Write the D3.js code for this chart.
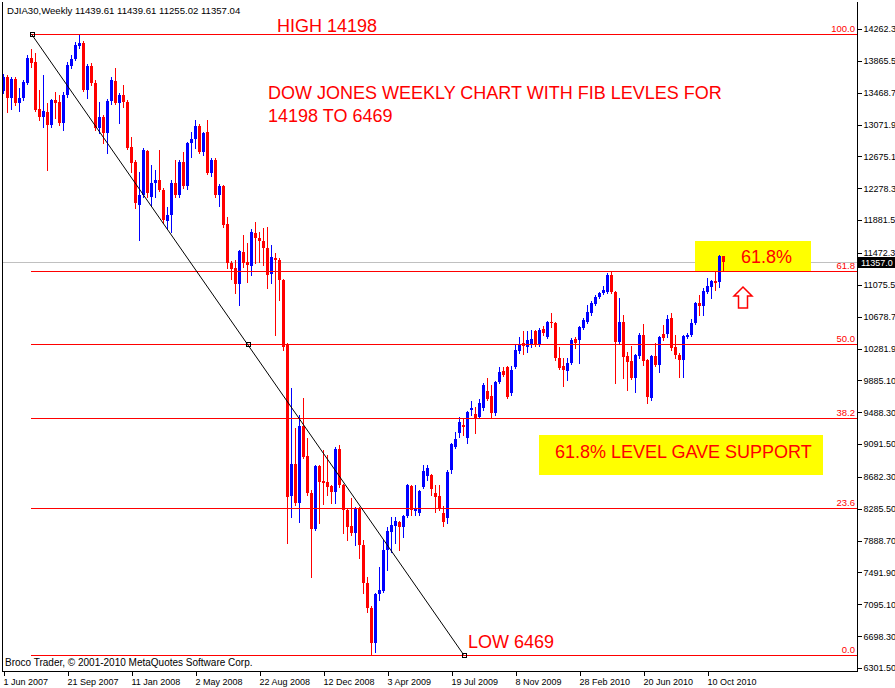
<!DOCTYPE html>
<html><head><meta charset="utf-8">
<script src="https://cdn.jsdelivr.net/npm/d3@7"></script>
<style>html,body{margin:0;padding:0;background:#fff;}svg{display:block;}</style>
</head><body>
<svg id="chart" width="895" height="688"></svg>
<script>
// ---------------- data ----------------
const symbolTitle = "DJIA30,Weekly  11439.61 11439.61 11255.02 11357.04";
const copyrightText = "Broco Trader, \u00a9 2001-2010 MetaQuotes Software Corp.";

const openP = [
13490,13664,13403,13639,13340,13403,13590,13901,13851,13266,
13166,13228,13066,13378,13353,13091,13440,13801,13889,14051,
14088,13502,13801,13590,13029,13166,12967,13365,13614,13340,
13440,13353,12792,12605,12070,12194,12742,12169,12344,12381,
12257,11870,11945,12344,12194,12605,12306,12842,12892,13054,
12730,12979,12468,12630,12194,12306,11833,11347,11285,11085,
11484,11360,11310,11721,11658,11621,11534,11210,11409,11385,
11135,10326,8444,8843,8357,9317,8943,8482,8033,8818,
8631,8619,8569,8494,9030,8582,8270,8071,7984,8282,
7834,7361,7049,6613,7224,7261,7772,7996,8071,8120,
8058,8195,8569,8258,8233,8557,8693,8706,8482,8444,
8233,8170,8768,9055,9229,9329,9167,9516,9466,9429,
9541,9753,9690,9478,9865,10002,10052,9728,10052,10251,
10350,10301,10338,10500,10326,10525,10425,10612,10600,10164,
10064,10002,10101,10400,10388,10537,10612,10724,10836,10924,
10973,10986,11198,10986,10363,10612,10189,10126,9915,10189,
10450,10139,9665,10189,10076,10463,10463,10662,10301,10201,
10139,10425,10450,10600,10849,10811,10986,11048,11123,11110,
11439.61];
const highP = [
13702,13689,13664,13664,13527,13627,13938,14013,13963,13502,
13689,13340,13390,13478,13440,13478,13851,13938,14100,14198,
14113,13826,13839,13627,13353,13191,13390,13664,13776,13465,
13565,13378,12917,12630,12481,12780,12755,12568,12506,12755,
12281,12045,12381,12630,12630,12730,12855,12979,13129,13079,
12979,13129,12655,12655,12331,12319,11920,11372,11385,11509,
11696,11596,11771,11858,11733,11783,11796,11571,11472,11409,
11148,10350,9790,9292,9454,9665,9167,8519,8831,8831,
9018,8955,8582,9055,9080,8594,8295,8420,8307,8307,
7896,7435,7074,7236,7560,7896,8058,8183,8183,8133,
8208,8594,8582,8582,8519,8831,8831,8718,8582,8582,
8320,8768,9105,9242,9429,9416,9503,9628,9553,9653,
9852,9915,9827,9877,10052,10052,10064,10064,10338,10425,
10500,10500,10512,10512,10537,10562,10625,10724,10612,10301,
10164,10164,10413,10425,10562,10662,10824,10874,10948,10986,
11060,11223,11248,10998,10911,10699,10238,10313,10213,10475,
10587,10151,10201,10350,10438,10575,10699,10724,10450,10226,
10450,10475,10649,10861,10948,11036,11160,11135,11235,11447,
11439.61];
const lowP = [
13465,13228,13266,13315,13241,13378,13577,13789,13241,13129,
13041,12506,13041,13154,13066,13004,13415,13776,13876,14026,
13490,13403,13565,13004,12967,12842,12718,13328,13328,13091,
13290,12767,12481,12032,11634,12169,12169,12057,12169,12244,
11845,11770,11733,12169,12169,12281,12269,12667,12780,12718,
12693,12456,12431,12169,12057,11796,11285,11148,10973,10824,
11297,11110,11198,11347,11360,11322,11036,11098,10450,10886,
10263,7859,8183,8332,8120,8918,8457,7435,8021,8108,
8345,8457,8357,8357,8557,7984,7896,7959,7834,7672,
7236,6999,6469,6501,7149,7249,7523,7747,7859,7772,
7934,8183,8208,8208,8208,8544,8644,8457,8245,8270,
8071,8108,8731,9043,9180,9204,9105,9454,9229,9416,
9516,9640,9416,9454,9852,9939,9665,9703,10039,10226,
10213,10238,10301,10313,10313,10450,10413,10550,10139,10027,
9815,9890,10089,10288,10101,10525,10600,10699,10824,10911,
10961,10973,10973,9852,10350,9915,9765,9902,9740,10164,
10076,9603,9640,10064,9989,10388,10425,10263,10164,9927,
9927,10413,10438,10587,10699,10699,10973,10911,11011,11048,
11255.02];
const closeP = [
13664,13403,13639,13340,13403,13602,13901,13839,13253,13166,
13241,13066,13378,13340,13091,13440,13814,13889,14063,14088,
13502,13801,13590,13029,13166,12967,13365,13627,13340,13440,
13353,12780,12593,12095,12194,12755,12219,12344,12381,12257,
11883,11945,12344,12194,12605,12306,12842,12892,13054,12730,
12967,12468,12630,12194,12306,11821,11347,11272,11085,11497,
11347,11322,11733,11658,11621,11534,11198,11422,11385,11135,
10301,8432,8843,8357,9317,8930,8482,8033,8818,8619,
8606,8557,8494,9030,8582,8270,8058,7984,8282,7834,
7361,7049,6613,7224,7273,7772,8008,8083,8133,8058,
8195,8582,8270,8282,8507,8756,8793,8532,8432,8282,
8120,8743,9092,9155,9366,9304,9491,9541,9416,9603,
9827,9653,9478,9865,9989,9952,9678,10014,10263,10326,
10313,10388,10400,10326,10512,10475,10612,10600,10164,10039,
10014,10101,10388,10350,10550,10637,10737,10849,10924,10973,
11011,11198,10986,10363,10612,10176,10114,9915,10201,10450,
10126,9678,10189,10076,10425,10413,10649,10288,10201,10139,
10438,10450,10600,10849,10811,10998,11060,11123,11098,11434,
11357.04];

const dateTickBars = [0,16,32,48,64,80,96,112,128,144,160,176];
const dateTickLabels = ["1 Jun 2007","21 Sep 2007","11 Jan 2008","2 May 2008","22 Aug 2008","12 Dec 2008","3 Apr 2009","19 Jul 2009","8 Nov 2009","28 Feb 2010","20 Jun 2010","10 Oct 2010"];
const priceTickLabels = ["14262.3","13865.5","13468.7","13071.9","12675.1","12278.3","11881.5","11472.3","11075.5","10678.7","10281.9","9885.10","9488.30","9091.50","8682.30","8285.50","7888.70","7491.90","7095.10","6698.30","6301.50"];

const fibHigh = 14198, fibLow = 6469;
const fibAnchorBars = [7, 115];
const fibLevels = [0, 23.6, 38.2, 50, 61.8, 100];
const fibLevelLabels = ["0.0","23.6","38.2","50.0","61.8","100.0"];
const lastPrice = 11357.04;

// ---------------- layout ----------------
const W = 895, H = 688;
const frame = {left: 2, right: 857, top: 2, bottom: 671};
const x = d3.scaleLinear().domain([0, 180]).range([3.5, 723.5]);
const priceTicks = priceTickLabels.map(Number);
const y = d3.scaleLinear().domain([6301.5, 14262.3]).range([668, 29]);
const BULL = "#0000ff", BEAR = "#ff0000", RED = "#ff0000";
const smallFont = "'Liberation Sans', Arial, sans-serif";
const svg = d3.select("#chart");

svg.append("defs").append("clipPath").attr("id", "clip")
  .append("rect").attr("x", frame.left + 1).attr("y", frame.top)
  .attr("width", frame.right - frame.left - 1).attr("height", frame.bottom - frame.top);

const plot = svg.append("g").attr("clip-path", "url(#clip)");

// last price grey line
const lpY = Math.round(y(lastPrice)) + 0.5;
plot.append("line").attr("x1", frame.left).attr("x2", frame.right)
  .attr("y1", lpY).attr("y2", lpY).attr("stroke", "#c0c0c0").attr("shape-rendering", "crispEdges");

// yellow annotation boxes (behind candles)
plot.append("rect").attr("x", 695).attr("y", 241).attr("width", 116).attr("height", 30).attr("fill", "#ffff00");
plot.append("rect").attr("x", 539).attr("y", 435).attr("width", 284).attr("height", 40).attr("fill", "#ffff00");

// candles
const bars = openP.map((o, i) => ({i, o, h: highP[i], l: lowP[i], c: closeP[i]}));
const cg = plot.append("g").attr("shape-rendering", "crispEdges");
cg.selectAll("line.wick").data(bars).join("line").attr("class", "wick")
  .attr("x1", d => x(d.i)).attr("x2", d => x(d.i))
  .attr("y1", d => Math.round(y(d.h))).attr("y2", d => Math.round(y(d.l)) + 1)
  .attr("stroke", d => d.c >= d.o ? BULL : BEAR).attr("stroke-width", 1);
cg.selectAll("rect.body").data(bars).join("rect").attr("class", "body")
  .attr("x", d => x(d.i) - 1.5).attr("width", 3)
  .attr("y", d => Math.round(y(Math.max(d.o, d.c))))
  .attr("height", d => Math.max(1, Math.round(y(Math.min(d.o, d.c))) - Math.round(y(Math.max(d.o, d.c)))))
  .attr("fill", d => d.c >= d.o ? BULL : BEAR);

// fibonacci levels
const fibG = plot.append("g");
const fibData = fibLevels.map((lv, k) => ({lv, label: fibLevelLabels[k], v: fibLow + lv / 100 * (fibHigh - fibLow)}));
fibG.selectAll("line").data(fibData).join("line")
  .attr("x1", x(fibAnchorBars[0]) - 0.5).attr("x2", frame.right)
  .attr("y1", d => Math.round(y(d.v)) + 0.5).attr("y2", d => Math.round(y(d.v)) + 0.5)
  .attr("stroke", RED).attr("shape-rendering", "crispEdges");
fibG.selectAll("text").data(fibData).join("text")
  .attr("x", frame.right - 2).attr("y", d => Math.round(y(d.v)) - 2)
  .attr("text-anchor", "end").attr("fill", RED)
  .attr("font-family", smallFont).attr("font-size", 9.5).text(d => d.label);

// fib trend line with anchor squares
const p1 = [x(fibAnchorBars[0]), y(fibHigh)], p2 = [x(fibAnchorBars[1]), y(fibLow)];
const pm = [x((fibAnchorBars[0] + fibAnchorBars[1]) / 2), y((fibHigh + fibLow) / 2)];
plot.append("line").attr("x1", p1[0]).attr("y1", p1[1]).attr("x2", p2[0]).attr("y2", p2[1])
  .attr("stroke", "#000").attr("stroke-width", 1);
plot.selectAll("rect.anchor").data([p1, pm, p2]).join("rect").attr("class", "anchor")
  .attr("x", d => Math.round(d[0]) - 2 + 0.5).attr("y", d => Math.round(d[1]) - 2 + 0.5)
  .attr("width", 4).attr("height", 4).attr("fill", "none").attr("stroke", "#000")
  .attr("shape-rendering", "crispEdges");

// annotation texts
const bigFont = "'Liberation Sans', Arial, sans-serif";
function big(t, px, py) {
  plot.append("text").attr("x", px).attr("y", py).attr("fill", RED)
    .attr("font-family", bigFont).attr("font-size", 18).text(t);
}
big("HIGH 14198", 277, Math.round(y(fibHigh)) - 2);
big("DOW JONES WEEKLY CHART WITH FIB LEVLES FOR", 268, 99);
big("14198 TO 6469", 268, 122);
big("61.8%", 741, 263);
big("61.8% LEVEL GAVE SUPPORT", 555, 458);
big("LOW 6469", 468, Math.round(y(fibLow)) - 7);

// hollow up arrow
plot.append("path")
  .attr("d", "M743,287 L752,296 L747.5,296 L747.5,308 L738.5,308 L738.5,296 L734,296 Z")
  .attr("fill", "none").attr("stroke", RED).attr("stroke-width", 1.5);

// title + copyright
svg.append("text").attr("x", 7).attr("y", 14).attr("font-family", smallFont)
  .attr("font-size", 9.6).attr("fill", "#000").text(symbolTitle);
svg.append("text").attr("x", 5).attr("y", 666).attr("font-family", smallFont)
  .attr("font-size", 10).attr("fill", "#000").text(copyrightText);

// frame
const fr = svg.append("g").attr("stroke", "#000").attr("shape-rendering", "crispEdges");
fr.append("line").attr("x1", frame.left + 0.5).attr("x2", frame.left + 0.5).attr("y1", frame.top).attr("y2", frame.bottom + 1);
fr.append("line").attr("x1", frame.right + 0.5).attr("x2", frame.right + 0.5).attr("y1", frame.top).attr("y2", frame.bottom + 1);
fr.append("line").attr("x1", frame.left).attr("x2", frame.right + 1).attr("y1", frame.bottom + 0.5).attr("y2", frame.bottom + 0.5);

// right price axis
const yAxis = d3.axisRight(y).tickValues(priceTicks).tickFormat((d, i) => priceTickLabels[i]).tickSize(4).tickSizeOuter(0);
const ya = svg.append("g").attr("transform", `translate(${frame.right + 0.5},0)`).call(yAxis);
ya.select(".domain").remove();
ya.selectAll("line").attr("shape-rendering", "crispEdges");
ya.selectAll("text").attr("font-family", smallFont).attr("font-size", 9).attr("x", 6).attr("fill", "#000");

// bottom date axis
const xAxis = d3.axisBottom(x).tickValues(dateTickBars).tickFormat((d, i) => dateTickLabels[i]).tickSize(4).tickSizeOuter(0);
const xa = svg.append("g").attr("transform", `translate(0,${frame.bottom + 0.5})`).call(xAxis);
xa.select(".domain").remove();
xa.selectAll("line").attr("shape-rendering", "crispEdges");
xa.selectAll("text").attr("font-family", smallFont).attr("font-size", 9)
  .attr("text-anchor", "start").attr("x", -0.5).attr("fill", "#000");

// current price tag
const tag = svg.append("g");
tag.append("rect").attr("x", frame.right + 1).attr("y", Math.round(y(lastPrice)) - 5)
  .attr("width", W - frame.right - 1).attr("height", 11).attr("fill", "#000");
tag.append("text").attr("x", frame.right + 4).attr("y", Math.round(y(lastPrice)) + 4)
  .attr("font-family", smallFont).attr("font-size", 9).attr("fill", "#fff")
  .text(lastPrice.toFixed(1));
</script>
</body></html>
